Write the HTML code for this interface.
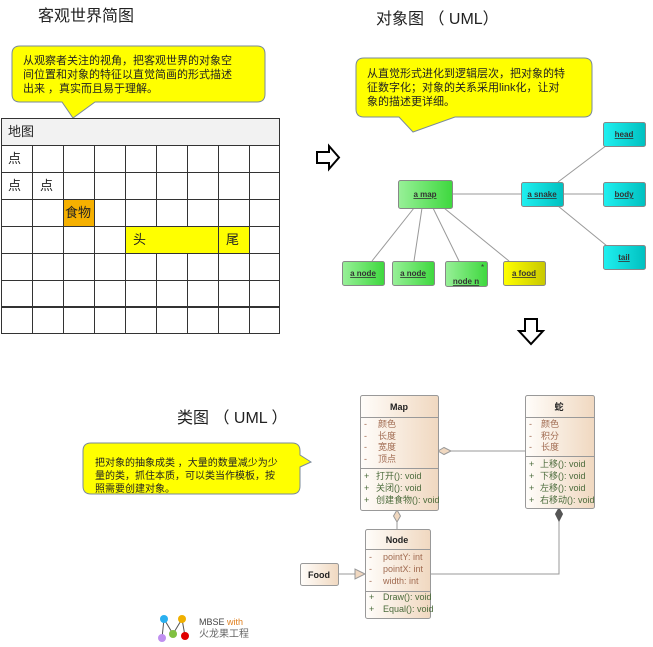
<!DOCTYPE html>
<html><head><meta charset="utf-8"><style>
html,body{margin:0;padding:0;background:#fff;width:653px;height:647px;overflow:hidden}
svg{display:block}
text{font-family:"Liberation Sans","Noto Sans CJK SC",sans-serif}
</style></head><body>
<svg width="653" height="647" viewBox="0 0 653 647" xmlns="http://www.w3.org/2000/svg">
<defs>
<linearGradient id="gg" x1="0" x2="1"><stop offset="0" stop-color="#98f098"/><stop offset="1" stop-color="#3ed83e"/></linearGradient>
<linearGradient id="cg" x1="0" x2="1"><stop offset="0" stop-color="#20f0f0"/><stop offset="1" stop-color="#00c0c0"/></linearGradient>
<linearGradient id="yg" x1="0" x2="1"><stop offset="0" stop-color="#ffff00"/><stop offset="1" stop-color="#c8c800"/></linearGradient>
<linearGradient id="bg" x1="0" x2="1"><stop offset="0" stop-color="#fffdfa"/><stop offset="1" stop-color="#f0d8c0"/></linearGradient>
</defs>

<text x="38" y="21" font-size="16" fill="#222">客观世界简图</text>
<path d="M20,46 H257 Q265,46 265,54 V94 Q265,102 257,102 H95 L73,118 L62,102 H20 Q12,102 12,94 V54 Q12,46 20,46 Z" fill="#ffff00" stroke="#7a8a9a" stroke-width="1"/>
<text font-size="11" fill="#222"><tspan x="23" y="64">从观察者关注的视角，把客观世界的对象空</tspan><tspan x="23" y="78">间位置和对象的特征以直觉简画的形式描述</tspan><tspan x="23" y="92">出来 ，真实而且易于理解。</tspan></text>
<rect x="1" y="118" width="279" height="27" fill="#f2f2f2"/>
<rect x="63" y="199" width="31" height="27" fill="#f5b000"/>
<rect x="125" y="226" width="124" height="27" fill="#ffff00"/>
<g stroke="#333" stroke-width="1" fill="none">
<rect x="1.5" y="118.5" width="278" height="215"/>
<line x1="1" y1="145.5" x2="280" y2="145.5"/>
<line x1="1" y1="172.5" x2="280" y2="172.5"/>
<line x1="1" y1="199.5" x2="280" y2="199.5"/>
<line x1="1" y1="226.5" x2="280" y2="226.5"/>
<line x1="1" y1="253.5" x2="280" y2="253.5"/>
<line x1="1" y1="280.5" x2="280" y2="280.5"/>
<line x1="1" y1="306.5" x2="280" y2="306.5"/>
<line x1="1" y1="307.5" x2="280" y2="307.5"/>
<line x1="32.5" y1="145" x2="32.5" y2="334"/>
<line x1="63.5" y1="145" x2="63.5" y2="334"/>
<line x1="94.5" y1="145" x2="94.5" y2="334"/>
<line x1="125.5" y1="145" x2="125.5" y2="334"/>
<line x1="156.5" y1="145" x2="156.5" y2="226"/><line x1="156.5" y1="253" x2="156.5" y2="334"/>
<line x1="187.5" y1="145" x2="187.5" y2="226"/><line x1="187.5" y1="253" x2="187.5" y2="334"/>
<line x1="218.5" y1="145" x2="218.5" y2="334"/>
<line x1="249.5" y1="145" x2="249.5" y2="334"/>
</g>
<g font-size="13" fill="#222">
<text x="8" y="136">地图</text>
<text x="8" y="163">点</text>
<text x="8" y="190">点</text><text x="40" y="190">点</text>
<text x="65" y="217">食物</text>
<text x="133" y="244">头</text><text x="226" y="244">尾</text>
</g>

<path d="M317,152 H329 V146 L339,157.5 L329,169 V163 H317 Z" fill="#fff" stroke="#000" stroke-width="2"/>
<path d="M525,319 H537 V331 H543 L531,344 L519,331 H525 Z" fill="#fff" stroke="#000" stroke-width="2"/>

<text x="376" y="24" font-size="16" fill="#222">对象图 （ UML）</text>
<path d="M364,58 H584 Q592,58 592,66 V109 Q592,117 584,117 H455 L413,132 L399,117 H364 Q356,117 356,109 V66 Q356,58 364,58 Z" fill="#ffff00" stroke="#7a8a9a" stroke-width="1"/>
<text font-size="11" fill="#222"><tspan x="367" y="77">从直觉形式进化到逻辑层次，把对象的特</tspan><tspan x="367" y="91">征数字化；对象的关系采用link化，让对</tspan><tspan x="367" y="105">象的描述更详细。</tspan></text>
<g stroke="#999" stroke-width="1">
<line x1="452" y1="194" x2="521" y2="194"/>
<line x1="563" y1="194" x2="603" y2="194"/>
<line x1="558" y1="182" x2="607" y2="145"/>
<line x1="558" y1="206" x2="607" y2="246"/>
<line x1="414" y1="208" x2="372" y2="261"/>
<line x1="422" y1="208" x2="414" y2="261"/>
<line x1="433" y1="208" x2="459" y2="261"/>
<line x1="444" y1="208" x2="509" y2="261"/>
</g>
<g stroke="#888" stroke-width="1">
<rect x="398.5" y="180.5" width="54" height="28" rx="2" fill="url(#gg)"/>
<rect x="521.5" y="182.5" width="42" height="24" rx="2" fill="url(#cg)"/>
<rect x="603.5" y="122.5" width="42" height="24" rx="2" fill="url(#cg)"/>
<rect x="603.5" y="182.5" width="42" height="24" rx="2" fill="url(#cg)"/>
<rect x="603.5" y="245.5" width="42" height="24" rx="2" fill="url(#cg)"/>
<rect x="342.5" y="261.5" width="42" height="24" rx="2" fill="url(#gg)"/>
<rect x="392.5" y="261.5" width="42" height="24" rx="2" fill="url(#gg)"/>
<rect x="445.5" y="261.5" width="42" height="25" rx="2" fill="url(#gg)"/>
<rect x="503.5" y="261.5" width="42" height="24" rx="2" fill="url(#yg)"/>
</g>
<g font-size="8" font-weight="bold" fill="#333" text-decoration="underline" text-anchor="middle">
<text x="425" y="197">a map</text>
<text x="542" y="197">a snake</text>
<text x="624" y="137">head</text>
<text x="624" y="197">body</text>
<text x="624" y="260">tail</text>
<text x="363" y="276">a node</text>
<text x="413" y="276">a node</text>
<text x="466" y="284">node n</text>
<text x="524" y="276">a food</text>
</g>
<text x="481" y="270" font-size="8" fill="#333">*</text>

<text x="177" y="423" font-size="16" fill="#222">类图 （ UML ）</text>
<path d="M91,443 H292 Q300,443 300,451 V455 L311,462 L300,467 V486 Q300,494 292,494 H91 Q83,494 83,486 V451 Q83,443 91,443 Z" fill="#ffff00" stroke="#7a8a9a" stroke-width="1"/>
<text font-size="10" fill="#222"><tspan x="95" y="466">把对象的抽象成类 ，大量的数量减少为少</tspan><tspan x="95" y="479">量的类，抓住本质，可以类当作模板，按</tspan><tspan x="95" y="492">照需要创建对象。</tspan></text>

<g stroke="#999" stroke-width="1" fill="none">
<line x1="438" y1="451" x2="525" y2="451"/>
<line x1="397" y1="510" x2="397" y2="529"/>
<polyline points="430,574 559,574 559,508"/>
<line x1="338" y1="574" x2="358" y2="574"/>
</g>
<path d="M438,451 L444,447.5 L451,451 L444,454.5 Z" fill="#f0d8c0" stroke="#999"/>
<path d="M397,510 L400.5,516 L397,522 L393.5,516 Z" fill="#f0d8c0" stroke="#999"/>
<path d="M559,508 L562.5,514 L559,521 L555.5,514 Z" fill="#555" stroke="#555"/>
<path d="M365,574 L355,569 L355,579 Z" fill="#f0d8c0" stroke="#999"/>

<g stroke="#999" stroke-width="1" fill="url(#bg)">
<rect x="360.5" y="395.5" width="78" height="115" rx="2"/>
<rect x="525.5" y="395.5" width="69" height="113" rx="2"/>
<rect x="365.5" y="529.5" width="65" height="89" rx="2"/>
<rect x="300.5" y="563.5" width="38" height="22" rx="2"/>
</g>
<g stroke="#999" stroke-width="1">
<line x1="360" y1="417.5" x2="438" y2="417.5"/><line x1="360" y1="468.5" x2="438" y2="468.5"/>
<line x1="525" y1="417.5" x2="594" y2="417.5"/><line x1="525" y1="456.5" x2="594" y2="456.5"/>
<line x1="365" y1="549.5" x2="430" y2="549.5"/><line x1="365" y1="591.5" x2="430" y2="591.5"/>
</g>
<g font-size="9" font-weight="bold" fill="#222" text-anchor="middle">
<text x="399" y="410">Map</text><text x="559" y="410">蛇</text>
<text x="397" y="543">Node</text><text x="319" y="578">Food</text>
</g>
<g font-size="9" fill="#a06a50">
<text x="364" y="427">-</text><text x="378" y="427">颜色</text>
<text x="364" y="439">-</text><text x="378" y="439">长度</text>
<text x="364" y="450">-</text><text x="378" y="450">宽度</text>
<text x="364" y="462">-</text><text x="378" y="462">顶点</text>
<text x="529" y="427">-</text><text x="541" y="427">颜色</text>
<text x="529" y="439">-</text><text x="541" y="439">积分</text>
<text x="529" y="450">-</text><text x="541" y="450">长度</text>
<text x="369" y="560">-</text><text x="383" y="560">pointY: int</text>
<text x="369" y="572">-</text><text x="383" y="572">pointX: int</text>
<text x="369" y="584">-</text><text x="383" y="584">width: int</text>
</g>
<g font-size="9" fill="#4a6a3a">
<text x="364" y="479">+</text><text x="376" y="479">打开(): void</text>
<text x="364" y="491">+</text><text x="376" y="491">关闭(): void</text>
<text x="364" y="503">+</text><text x="376" y="503">创建食物(): void</text>
<text x="529" y="467">+</text><text x="540" y="467">上移(): void</text>
<text x="529" y="479">+</text><text x="540" y="479">下移(): void</text>
<text x="529" y="491">+</text><text x="540" y="491">左移(): void</text>
<text x="529" y="503">+</text><text x="540" y="503">右移动(): void</text>
<text x="369" y="600">+</text><text x="383" y="600">Draw(): void</text>
<text x="369" y="612">+</text><text x="383" y="612">Equal(): void</text>
</g>

<g stroke="#555" stroke-width="1">
<line x1="164" y1="619" x2="162" y2="638"/><line x1="164" y1="619" x2="173" y2="634"/>
<line x1="173" y1="634" x2="182" y2="619"/><line x1="182" y1="619" x2="185" y2="636"/>
</g>
<circle cx="164" cy="619" r="4" fill="#2ab0f0"/>
<circle cx="182" cy="619" r="4" fill="#f0b000"/>
<circle cx="162" cy="638" r="4" fill="#c090f0"/>
<circle cx="173" cy="634" r="4" fill="#80c040"/>
<circle cx="185" cy="636" r="4" fill="#e00000"/>
<text x="199" y="625" font-size="9" fill="#444">MBSE <tspan fill="#e08020">with</tspan></text>
<text x="199" y="637" font-size="10" fill="#666">火龙果工程</text>
</svg>
</body></html>
